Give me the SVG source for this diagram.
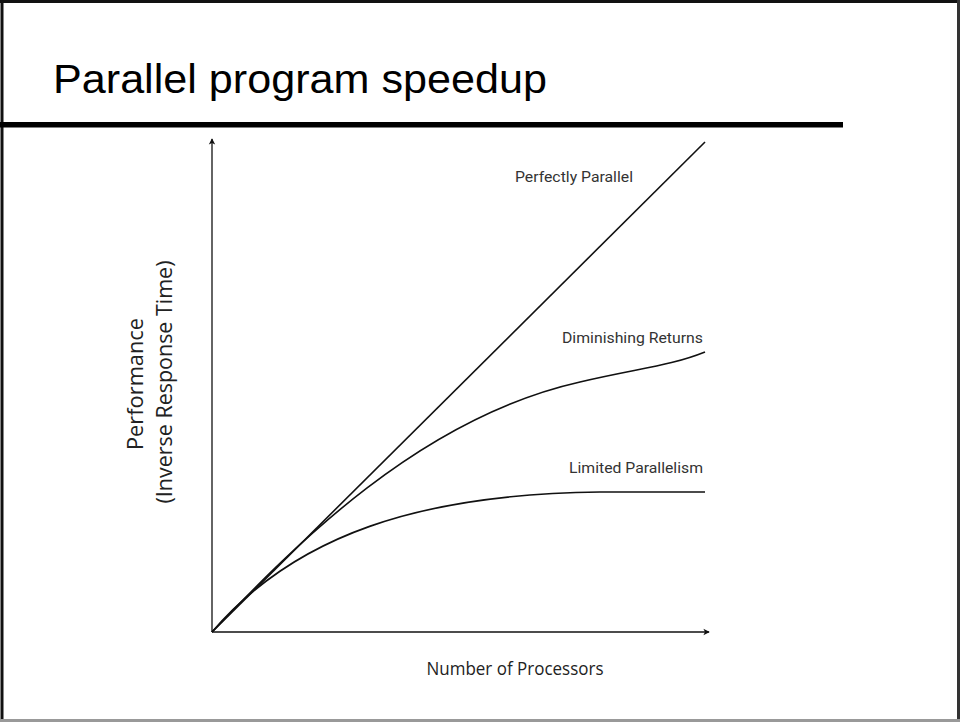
<svg xmlns="http://www.w3.org/2000/svg" width="960" height="722" viewBox="0 0 960 722">
  <style>
    .lbl { font-family: "Roboto", "Liberation Sans", sans-serif; font-size: 14.5px; fill: #333; }
    .ax { font-family: "Open Sans", "Noto Sans", sans-serif; font-size: 18px; fill: #222; }
    .ay { font-family: "Open Sans", "Noto Sans", sans-serif; font-size: 21px; fill: #222; }
    .curve { fill: none; stroke: #111; stroke-width: 1.6; }
    .axis { fill: none; stroke: #111; stroke-width: 1.3; }
  </style>
  <defs>
    <marker id="arr" viewBox="0 0 10 10" refX="8" refY="5" markerWidth="8" markerHeight="8" markerUnits="userSpaceOnUse" orient="auto">
      <path d="M1,1 L9,5 L1,9 L3,5 Z" fill="#111"/>
    </marker>
  </defs>
  <rect x="0" y="0" width="960" height="722" fill="#fff"/>
  <g id="frame">
    <line x1="0" y1="1.5" x2="960" y2="1.5" stroke="#111" stroke-width="3"/>
    <line x1="2" y1="0" x2="2" y2="722" stroke="#111" stroke-width="3"/>
    <line x1="958.5" y1="0" x2="958.5" y2="722" stroke="#333" stroke-width="3"/>
    <line x1="0" y1="720.5" x2="960" y2="720.5" stroke="#999" stroke-width="3"/>
  </g>
  <g id="title">
    <text x="53" y="93" font-family="'Liberation Sans', 'DejaVu Sans', sans-serif" font-size="40" fill="#000" textLength="494" lengthAdjust="spacingAndGlyphs">Parallel program speedup</text>
    <rect x="0" y="122" width="843" height="5.5" fill="#000"/>
  </g>
  <g id="connectors">
    <line class="axis" x1="212" y1="632" x2="212" y2="139" marker-end="url(#arr)"/>
    <line class="axis" x1="212" y1="632" x2="709" y2="632" marker-end="url(#arr)"/>
    <path id="perfect" class="curve" d="M212,632 L705,142"/>
    <path id="diminishing" class="curve" d="M212,632 C295,545 420,418 580,382 C640,368 670,366 705,352"/>
    <path id="limited" class="curve" d="M212,632 C295,535 420,494 600,492 L705,492"/>
  </g>
  <g id="labels">
    <text class="lbl" x="515" y="182" textLength="118" lengthAdjust="spacingAndGlyphs">Perfectly Parallel</text>
    <text class="lbl" x="562" y="343" textLength="141" lengthAdjust="spacingAndGlyphs">Diminishing Returns</text>
    <text class="lbl" x="569" y="473" textLength="134" lengthAdjust="spacingAndGlyphs">Limited Parallelism</text>
  </g>
  <g id="y-axis-label">
    <text class="ay" transform="translate(143,384) rotate(-90)" text-anchor="middle" textLength="132" lengthAdjust="spacingAndGlyphs">Performance</text>
    <text class="ay" transform="translate(172,382) rotate(-90)" text-anchor="middle" textLength="243" lengthAdjust="spacingAndGlyphs">(Inverse Response Time)</text>
  </g>
  <g id="x-axis-label">
    <text class="ax" x="515" y="675" text-anchor="middle" textLength="177" lengthAdjust="spacingAndGlyphs">Number of Processors</text>
  </g>
</svg>
